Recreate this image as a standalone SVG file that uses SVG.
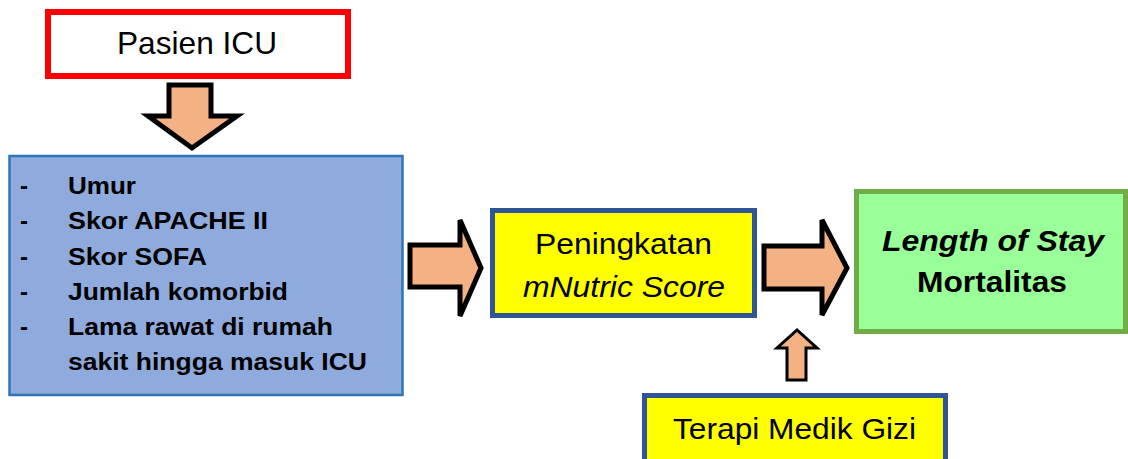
<svg xmlns="http://www.w3.org/2000/svg" width="1128" height="459" viewBox="0 0 1128 459">
  <style>
    .t { font-family: "Liberation Sans", Arial, sans-serif; fill: #000; }
    .arrow { fill: #F4B183; stroke: #000; stroke-linejoin: miter; }
    .yellow { fill: #FFFF00; stroke: #2F5597; stroke-width: 5; }
    .item { font-size: 24px; font-weight: bold; }
  </style>
  <rect width="1128" height="459" fill="#fff"/>

  <g id="pasien-icu">
    <rect x="48" y="12" width="300" height="64" fill="#fff" stroke="#FF0000" stroke-width="6"/>
    <text class="t" x="117" y="54" font-size="30.5" textLength="160" lengthAdjust="spacingAndGlyphs">Pasien ICU</text>
  </g>

  <g id="faktor">
    <rect x="9.5" y="156" width="393" height="239" fill="#8FAADC" stroke="#2E75B6" stroke-width="2.5"/>
    <g class="t item">
      <text x="20" y="194">-</text><text x="68" y="194" textLength="68" lengthAdjust="spacingAndGlyphs">Umur</text>
      <text x="20" y="229">-</text><text x="68" y="229" textLength="200" lengthAdjust="spacingAndGlyphs">Skor APACHE II</text>
      <text x="20" y="265">-</text><text x="68" y="265" textLength="139" lengthAdjust="spacingAndGlyphs">Skor SOFA</text>
      <text x="20" y="300">-</text><text x="68" y="300" textLength="220" lengthAdjust="spacingAndGlyphs">Jumlah komorbid</text>
      <text x="20" y="335">-</text><text x="68" y="335" textLength="265" lengthAdjust="spacingAndGlyphs">Lama rawat di rumah</text>
      <text x="68" y="370" textLength="299" lengthAdjust="spacingAndGlyphs">sakit hingga masuk ICU</text>
    </g>
  </g>

  <g id="mnutric">
    <rect x="492.5" y="210.5" width="262" height="105" class="yellow"/>
    <text class="t" x="535" y="254" font-size="29" textLength="177" lengthAdjust="spacingAndGlyphs">Peningkatan</text>
    <text class="t" x="523" y="297" font-size="29" font-style="italic" textLength="202" lengthAdjust="spacingAndGlyphs">mNutric Score</text>
  </g>

  <g id="outcome">
    <rect x="856.5" y="191.5" width="269" height="140" fill="#99FF99" stroke="#70AD47" stroke-width="5"/>
    <text class="t" x="882" y="251" font-size="29" font-weight="bold" font-style="italic" textLength="222" lengthAdjust="spacingAndGlyphs">Length of Stay</text>
    <text class="t" x="917" y="292" font-size="29" font-weight="bold" textLength="150" lengthAdjust="spacingAndGlyphs">Mortalitas</text>
  </g>

  <g id="terapi">
    <rect x="644.5" y="395.5" width="301" height="80" class="yellow"/>
    <text class="t" x="673" y="439" font-size="30" textLength="243" lengthAdjust="spacingAndGlyphs">Terapi Medik Gizi</text>
  </g>

  <g id="connectors">
    <!-- block arrow: Pasien ICU -> factors -->
    <polygon class="arrow" stroke-width="5" points="169,85 211,85 211,116 237,116 192,148 148,116 169,116"/>
    <!-- block arrow: factors -> mNutric -->
    <polygon class="arrow" stroke-width="5" points="410,245 460,245 460,220 481,268 460,316 460,287 410,287"/>
    <!-- block arrow: mNutric -> outcome -->
    <polygon class="arrow" stroke-width="5" points="764,246 822,246 822,220 847,268 822,315 822,289 764,289"/>
    <!-- block arrow: nutrition therapy -> mNutric/outcome link -->
    <polygon class="arrow" stroke-width="3" points="787,380 806,380 806,348 817,348 797,330 777,348 787,348"/>
  </g>
</svg>
